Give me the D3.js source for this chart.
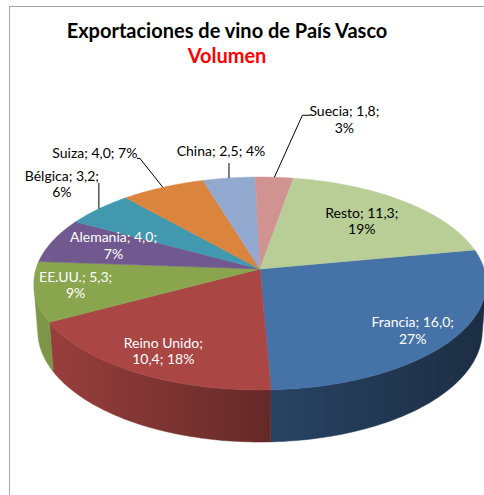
<!DOCTYPE html>
<html>
<head>
<meta charset="utf-8">
<script src="https://cdn.jsdelivr.net/npm/d3@7"></script>
<style>
  body { margin: 0; background: #fff; }
  text { font-family: Lato, "Open Sans", sans-serif; }
</style>
</head>
<body>
<div id="chart"></div>
<script>
// data
const countries = ["Francia", "Reino Unido", "EE.UU.", "Alemania", "Bélgica", "Suiza", "China", "Suecia", "Resto"];
const volumes = [16.0, 10.4, 5.3, 4.0, 3.245, 4.0, 2.5, 1.8, 11.3];
const palette = ["#4572A7", "#AA4643", "#89A54E", "#71588F", "#4198AF", "#DB843D", "#93A9CF", "#D19392", "#B9CD96"];

// label layout: how many parts on the first line, inside/outside placement
const labelLayout = {
  "Francia":     { split: 2, inside: true, r: 0.8, dx: 2, dy: 6, fill: "#fff" },
  "Reino Unido": { split: 1, inside: true, r: 0.8, dx: 1, dy: 2, fill: "#fff" },
  "EE.UU.":      { split: 2, inside: true, r: 0.8, dx: -5, dy: -2, fill: "#fff" },
  "Alemania":    { split: 2, inside: true, r: 0.7, dx: 0, dy: -3, fill: "#fff" },
  "Resto":       { split: 2, inside: true, r: 0.7, dx: -1, dy: 1, fill: "#000" },
  // outside labels: text centre (tx, ty = first baseline) and leader points, relative to rim point
  "Bélgica": { split: 2, inside: false, tx: -37, ty: -28, leader: [[0, 0], [0, -26]] },
  "Suiza":   { split: 3, inside: false, tx: -68, ty: -29, leader: [[0, 0], [-23, -29], [-26, -29]] },
  "China":   { split: 3, inside: false, tx: -8, ty: -22, leader: [[0, 0], [0, -15]] },
  "Suecia":  { split: 2, inside: false, tx: 70, ty: -61, leader: [[0, 0], [28, -62], [36, -62]] }
};

const width = 484, height = 495;

// 3d view
const cx = 260, cy = 269;
const focal = 1454, dist = 6.49, tilt = 27.8 * Math.PI / 180, depth = 0.242;
const firstSliceAngle = 79.2;

function proj(a, r, h) {
  const x = r * Math.sin(a), zw = r * Math.cos(a), y = h;
  const Y = y * Math.cos(tilt) + zw * Math.sin(tilt);
  const Z = -y * Math.sin(tilt) + zw * Math.cos(tilt) + dist;
  return [cx + focal * x / Z, cy - focal * Y / Z];
}

function arcPoints(a0, a1, h) {
  const n = Math.max(2, Math.ceil(Math.abs(a1 - a0) / (Math.PI / 180)));
  return d3.range(n + 1).map(i => proj(a0 + (a1 - a0) * i / n, 1, h));
}

const svg = d3.select('#chart')
  .append('svg')
  .attr('width', width)
  .attr('height', height);

svg.append('rect')
  .attr('x', 9.5).attr('y', 6.5)
  .attr('width', 520).attr('height', 520)
  .attr('fill', '#fff')
  .attr('stroke', '#a6a6a6')
  .attr('stroke-width', 1);

const total = d3.sum(volumes);
const start = firstSliceAngle * Math.PI / 180;
const pie = d3.pie().sort(null).startAngle(start).endAngle(start + 2 * Math.PI);
const arcs = pie(volumes).map((d, i) => ({ ...d, name: countries[i], color: palette[i] }));

const fmt = v => d3.format(".1f")(v).replace(".", ",");

// side gradients
const defs = svg.append('defs');
const leftX = proj(1.5 * Math.PI, 1, 0)[0], rightX = proj(0.5 * Math.PI, 1, 0)[0];
const shade = (c, k) => { const q = d3.rgb(c); return d3.rgb(q.r * k, q.g * k, q.b * k).toString(); };
arcs.forEach((d, i) => {
  const g = defs.append('linearGradient')
    .attr('id', 'side-' + i)
    .attr('gradientUnits', 'userSpaceOnUse')
    .attr('x1', leftX).attr('x2', rightX).attr('y1', 0).attr('y2', 0);
  [[0, 0.92], [0.5, 0.6], [1, 0.4]].forEach(([o, k]) => {
    g.append('stop').attr('offset', o).attr('stop-color', shade(d.color, k));
  });
});

// visible side range (front facing)
const vis0 = Math.acos(-1 / (dist * Math.cos(tilt)));
const vis1 = 2 * Math.PI - vis0;

const sideG = svg.append('g');
arcs.forEach((d, i) => {
  [0, 2 * Math.PI].forEach(off => {
    const b0 = Math.max(d.startAngle, vis0 + off), b1 = Math.min(d.endAngle, vis1 + off);
    if (b1 <= b0) return;
    const pts = arcPoints(b0, b1, 0).concat(arcPoints(b1, b0, -depth));
    sideG.append('path')
      .attr('d', 'M' + pts.map(p => p.join(',')).join('L') + 'Z')
      .attr('fill', `url(#side-${i})`)
      .attr('stroke', `url(#side-${i})`)
      .attr('stroke-width', 0.5);
  });
});

// top faces
const topG = svg.append('g');
arcs.forEach(d => {
  const pts = [proj(0, 0, 0)].concat(arcPoints(d.startAngle, d.endAngle, 0));
  topG.append('path')
    .attr('d', 'M' + pts.map(p => p.join(',')).join('L') + 'Z')
    .attr('fill', d.color)
    .attr('stroke', d.color)
    .attr('stroke-width', 0.5)
    .attr('stroke-linejoin', 'round');
});

// labels
const labelG = svg.append('g').attr('font-size', '14px');
arcs.forEach((d, i) => {
  const lay = labelLayout[d.name];
  const parts = [d.name + ';', fmt(volumes[i]) + ';', Math.round(volumes[i] / total * 100) + '%'];
  const lines = [parts.slice(0, lay.split).join(' '), parts.slice(lay.split).join(' ')].filter(s => s);
  const mid = (d.startAngle + d.endAngle) / 2;
  let x, y, fill;
  if (lay.inside) {
    const p = proj(mid, lay.r, 0);
    x = p[0] + lay.dx;
    y = p[1] + lay.dy - (lines.length - 1) * 8 + 4.5;
    fill = lay.fill;
  } else {
    const rim = proj(mid, 1, 0);
    x = rim[0] + lay.tx;
    y = rim[1] + lay.ty;
    fill = '#000';
    labelG.append('path')
      .attr('d', d3.line()(lay.leader.map(([a, b]) => [rim[0] + a, rim[1] + b])))
      .attr('fill', 'none')
      .attr('stroke', '#000')
      .attr('stroke-width', 1);
  }
  const t = labelG.append('text')
    .attr('text-anchor', 'middle')
    .attr('fill', fill);
  lines.forEach((line, j) => {
    t.append('tspan').attr('x', x).attr('y', y + j * 16.5).text(line);
  });
});

// titles
svg.append('text')
  .attr('x', 227).attr('y', 38)
  .attr('text-anchor', 'middle')
  .attr('font-size', '20px')
  .attr('font-weight', 'bold')
  .attr('fill', '#000')
  .text('Exportaciones de vino de País Vasco');

svg.append('text')
  .attr('x', 227).attr('y', 63)
  .attr('text-anchor', 'middle')
  .attr('font-size', '20px')
  .attr('font-weight', 'bold')
  .attr('fill', '#ff0000')
  .text('Volumen');
</script>
</body>
</html>
